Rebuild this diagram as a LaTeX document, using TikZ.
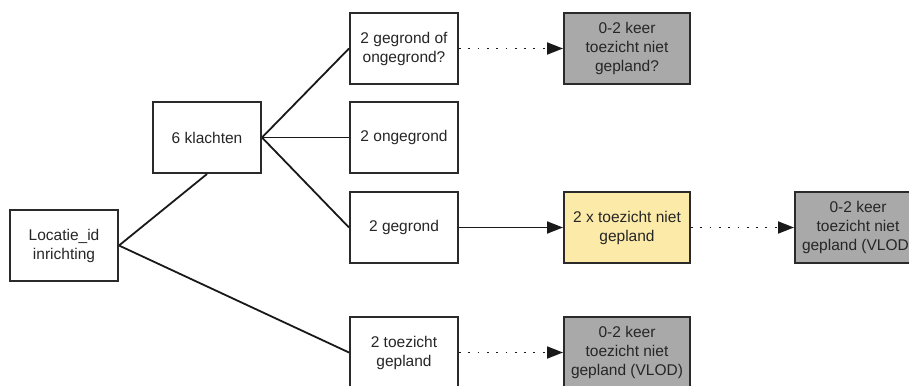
\documentclass[tikz,border=0pt]{standalone}
\usepackage{fontspec}
\setmainfont{Liberation Sans}
\usetikzlibrary{arrows.meta}
\definecolor{boxgray}{HTML}{A9A9A9}
\definecolor{boxyellow}{HTML}{FCEAA8}
\definecolor{edgec}{HTML}{2A2A2A}
\tikzset{
  wbox/.style={draw=edgec, line width=2pt, fill=white, minimum width=108pt, minimum height=71pt, inner sep=1pt, align=center, font=\fontsize{15.5}{19}\selectfont, text=black!85},
  gbox/.style={wbox, fill=boxgray, minimum width=126pt},
  ybox/.style={wbox, fill=boxyellow, minimum width=126pt},
  link/.style={line width=1.8pt, draw=black!90},
  arr/.style={link, -{Triangle[length=16pt,width=12pt]}},
  darr/.style={arr, dash pattern=on 1.8pt off 7.5pt},
}
\begin{document}
\begin{tikzpicture}[x=1pt,y=-1pt]
\useasboundingbox (0,0) rectangle (909,385);
\clip (0,0) rectangle (909,385);
\node[wbox] (loc) at (64,245.5) {Locatie\_id\\inrichting};
\node[wbox] (kl) at (207,137.5) {6 klachten};
\node[wbox] (gof) at (404,48.5) {2 gegrond of\\ongegrond?};
\node[wbox] (ong) at (404,137.5) {2 ongegrond};
\node[wbox] (geg) at (404,227.5) {2 gegrond};
\node[wbox] (tzg) at (404,352.5) {2 toezicht\\gepland};
\node[gbox] (g1) at (627,48.5) {0-2 keer\\toezicht niet\\gepland?};
\node[ybox] (y1) at (627,227.5) {2 x toezicht niet\\gepland};
\node[gbox] (g2) at (858,227.5) {0-2 keer\\toezicht niet\\gepland (VLOD)};
\node[gbox] (g3) at (627,352.5) {0-2 keer\\toezicht niet\\gepland (VLOD)};
\draw[link] (loc.east) -- (kl.south);
\draw[link] (loc.east) -- (tzg.west);
\draw[link] (kl.east) -- (gof.west);
\draw[link] (kl.east) -- (ong.west);
\draw[link] (kl.east) -- (geg.west);
\draw[darr] (gof.east) -- (g1.west);
\draw[arr] (geg.east) -- (y1.west);
\draw[darr] (y1.east) -- (g2.west);
\draw[darr] (tzg.east) -- (g3.west);
\end{tikzpicture}
\end{document}
